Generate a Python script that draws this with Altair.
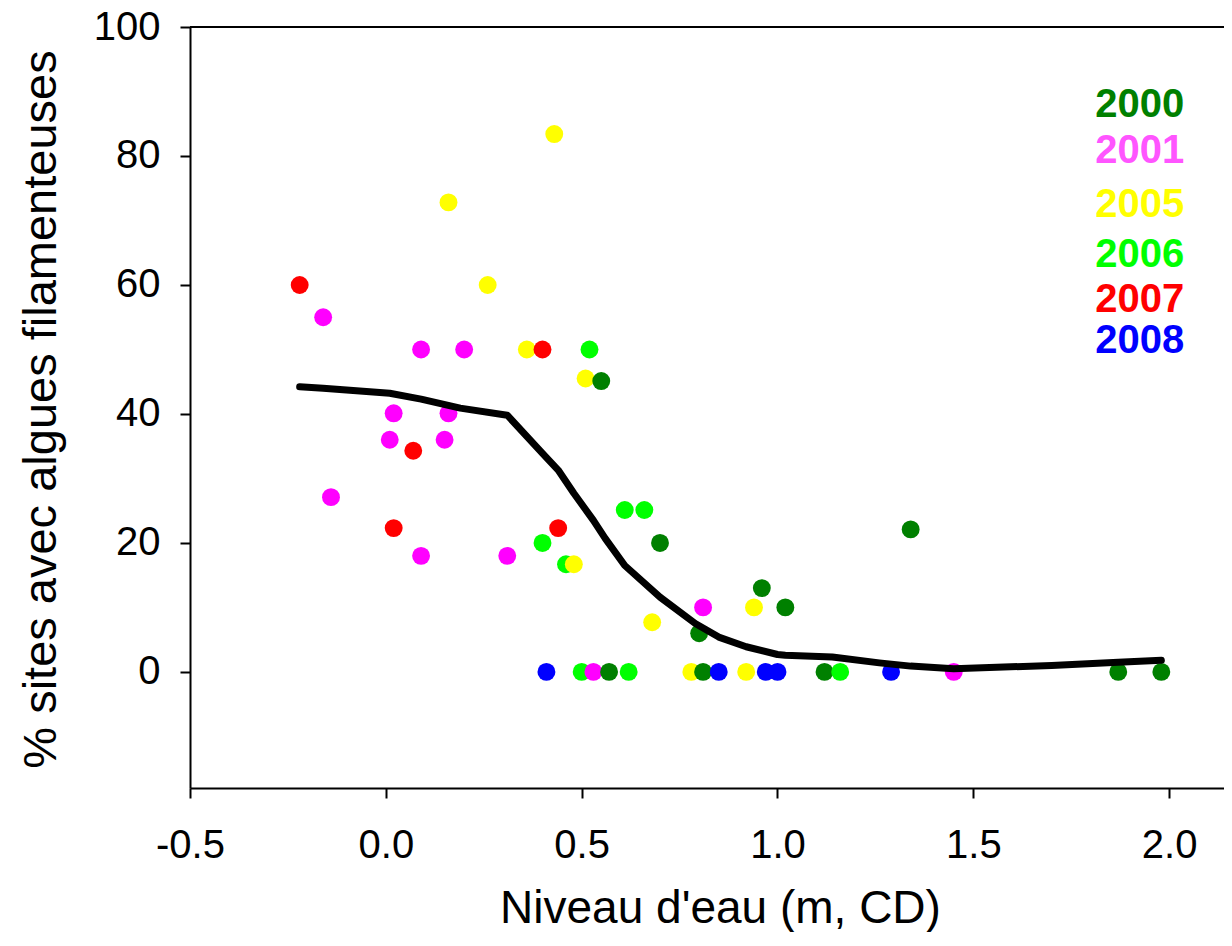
import altair as alt
import pandas as pd

# ---- data ----
years = ["2000", "2001", "2005", "2006", "2007", "2008"]
year_colors = ["#008000", "#FF00FF", "#FFFF00", "#00FF00", "#FF0000", "#0000FF"]
legend_text_colors = ["#008000", "#FF55FF", "#FFFF00", "#00FF00", "#FF0000", "#0000FF"]

x_2000 = [0.55, 0.70, 0.80, 0.96, 1.02, 1.34, 0.57, 0.81, 1.12, 1.87, 1.98]
y_2000 = [45.1, 20.0, 6.0, 13.0, 10.0, 22.1, 0, 0, 0, 0, 0]

x_2001 = [-0.16, 0.09, 0.20, 0.02, 0.16, 0.01, 0.15, -0.14, 0.09, 0.31, 0.81, 0.53, 1.45]
y_2001 = [55.0, 50.0, 50.0, 40.1, 40.1, 36.0, 36.0, 27.1, 18.0, 18.0, 10.0, 0, 0]

x_2005 = [0.43, 0.16, 0.26, 0.36, 0.51, 0.48, 0.68, 0.94, 0.78, 0.92]
y_2005 = [83.4, 72.8, 60.0, 50.0, 45.5, 16.7, 7.7, 10.0, 0, 0]

x_2006 = [0.52, 0.61, 0.66, 0.40, 0.46, 0.50, 0.62, 1.16]
y_2006 = [50.0, 25.1, 25.1, 20.0, 16.7, 0, 0, 0]

x_2007 = [-0.22, 0.40, 0.07, 0.02, 0.44]
y_2007 = [60.0, 50.0, 34.3, 22.3, 22.3]

x_2008 = [0.41, 0.85, 0.97, 1.00, 1.29]
y_2008 = [0, 0, 0, 0, 0]

curve_x = [-0.22, -0.16, 0.01, 0.09, 0.19, 0.31, 0.40, 0.44, 0.48, 0.53, 0.56, 0.61,
           0.70, 0.79, 0.85, 0.92, 1.00, 1.02, 1.14, 1.26, 1.34, 1.45, 1.70, 1.87, 1.98]
curve_y = [44.2, 44.0, 43.2, 42.3, 40.9, 39.8, 33.9, 31.3, 27.7, 23.5, 20.7, 16.5,
           11.6, 7.5, 5.4, 3.9, 2.7, 2.6, 2.3, 1.4, 0.9, 0.5, 1.0, 1.5, 1.8]

legend_x = [1.811] * 6
legend_y = [86.0, 78.9, 70.5, 62.8, 55.8, 49.4]

x_ticks = [-0.5, 0.0, 0.5, 1.0, 1.5, 2.0]
y_ticks = [0, 20, 40, 60, 80, 100]
x_domain = [-0.5, 2.140]
y_domain = [-18, 100]

x_title = "Niveau d'eau (m, CD)"
y_title = "% sites avec algues filamenteuses"

# ---- build tables ----
rows = []
for yr, xs, ys in zip(years, [x_2000, x_2001, x_2005, x_2006, x_2007, x_2008],
                      [y_2000, y_2001, y_2005, y_2006, y_2007, y_2008]):
    for a, b in zip(xs, ys):
        rows.append({"year": yr, "x": a, "y": b})
pts = pd.DataFrame(rows)
curve = pd.DataFrame({"x": curve_x, "y": curve_y})
leg = pd.DataFrame({"label": years, "x": legend_x, "y": legend_y, "col": legend_text_colors})
top = pd.DataFrame({"y": [100]})

FONT = "Liberation Sans"

xscale = alt.Scale(domain=x_domain, nice=False, zero=False)
yscale = alt.Scale(domain=y_domain, nice=False, zero=False)

xaxis = alt.Axis(values=x_ticks, title=x_title, grid=False,
                 labelExpr="replace(format(datum.value, '.1f'), '\u2212', '-')",
                 labelFontSize=40, labelFont=FONT, labelColor="black", labelPadding=27,
                 tickSize=10, tickWidth=2, tickColor="black",
                 domainColor="black", domainWidth=2,
                 titleFont=FONT, titleFontSize=46, titleFontWeight="normal", titleColor="black",
                 titleX=530, titleY=134, titleBaseline="alphabetic", titleAlign="center",
                 labelFlush=False, labelOverlap=False)
yaxis = alt.Axis(values=y_ticks, title=y_title, grid=False,
                 labelFontSize=40, labelFont=FONT, labelColor="black", labelPadding=20,
                 tickSize=10, tickWidth=2, tickColor="black",
                 domainColor="black", domainWidth=2,
                 titleFont=FONT, titleFontSize=47, titleFontWeight="normal", titleColor="black",
                 titleX=-135, titleY=382, titleBaseline="alphabetic", titleAlign="center",
                 titleAngle=270, labelFlush=False, labelOverlap=False)

base_pts = alt.Chart(pts).mark_circle(size=320, opacity=1).encode(
    x=alt.X("x:Q", scale=xscale, axis=xaxis),
    y=alt.Y("y:Q", scale=yscale, axis=yaxis),
    color=alt.Color("year:N", scale=alt.Scale(domain=years, range=year_colors), legend=None),
    order=alt.Order("x:Q"),
)

top_rule = alt.Chart(top).mark_rule(color="black", strokeWidth=2).encode(
    y=alt.Y("y:Q", scale=yscale)
)

line = alt.Chart(curve).mark_line(color="black", strokeWidth=7, strokeCap="round",
                                  strokeJoin="round").encode(
    x=alt.X("x:Q", scale=xscale),
    y=alt.Y("y:Q", scale=yscale),
)

legend_text = alt.Chart(leg).mark_text(font=FONT, fontSize=40, fontWeight="bold",
                                       align="left", baseline="alphabetic").encode(
    x=alt.X("x:Q", scale=xscale),
    y=alt.Y("y:Q", scale=yscale),
    text="label:N",
    color=alt.Color("col:N", scale=None),
)

chart = alt.layer(top_rule, base_pts, line, legend_text).properties(
    width=1034, height=761,
    autosize=alt.AutoSizeParams(type="none"),
    padding={"left": 182, "top": 19, "right": 0, "bottom": 144},
).configure_view(strokeWidth=0)

chart.save("out.html", embed_options={"renderer": "svg", "actions": False})
